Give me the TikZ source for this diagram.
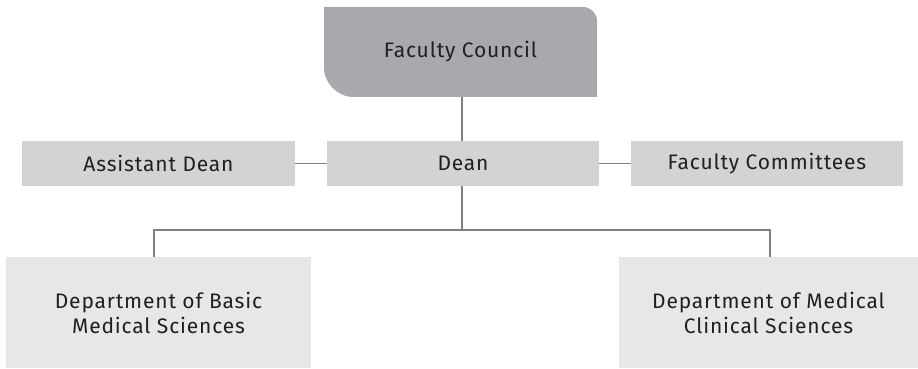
\documentclass[tikz,border=0pt]{standalone}
\usepackage{fontspec}
\setmainfont{Fira Sans}[LetterSpace=4]
\definecolor{councilfill}{HTML}{A7A9AC}
\definecolor{midfill}{HTML}{D1D3D4}
\definecolor{lowfill}{HTML}{E6E7E8}
\definecolor{linegray}{HTML}{808080}
\definecolor{textdark}{HTML}{231F20}
\begin{document}
\begin{tikzpicture}[x=1pt,y=1pt,
  box/.style={inner sep=0pt, text=textdark, font=\fontsize{21}{25}\selectfont, align=center},
  midbox/.style={box, fill=midfill, minimum height=45pt},
  lowbox/.style={box, fill=lowfill, minimum height=111pt},
  conn/.style={draw=linegray, line width=1.3pt}]
\useasboundingbox (0,0) rectangle (918,369);
% council shape
\fill[councilfill] (324,362) -- (583,362) arc[start angle=90,end angle=0,radius=14] -- (597,272) -- (354,272) arc[start angle=270,end angle=180,radius=30] -- cycle;
\node[box, minimum width=273pt, minimum height=90pt] (council) at (460.5,317) {Faculty Council};
\node[midbox, minimum width=273pt] (asst) at (158.5,205.5) {Assistant Dean};
\node[midbox, minimum width=272pt] (dean) at (463,205.5) {Dean};
\node[midbox, minimum width=272pt] (comm) at (767,205.5) {Faculty Committees};
\node[lowbox, minimum width=305pt] (basic) at (158.5,56.5) {Department of Basic\\Medical Sciences};
\node[lowbox, minimum width=299pt] (clin) at (768.5,56.5) {Department of Medical\\Clinical Sciences};
\coordinate (split) at (462,139);
\draw[conn] (462,272) -- (462,228);
\draw[conn] (asst.east) -- (dean.west);
\draw[conn] (dean.east) -- (comm.west);
\draw[conn] (462,183) -- (split);
\draw[conn] (split) -| (154,112);
\draw[conn] (split) -| (770,112);
\end{tikzpicture}
\end{document}
